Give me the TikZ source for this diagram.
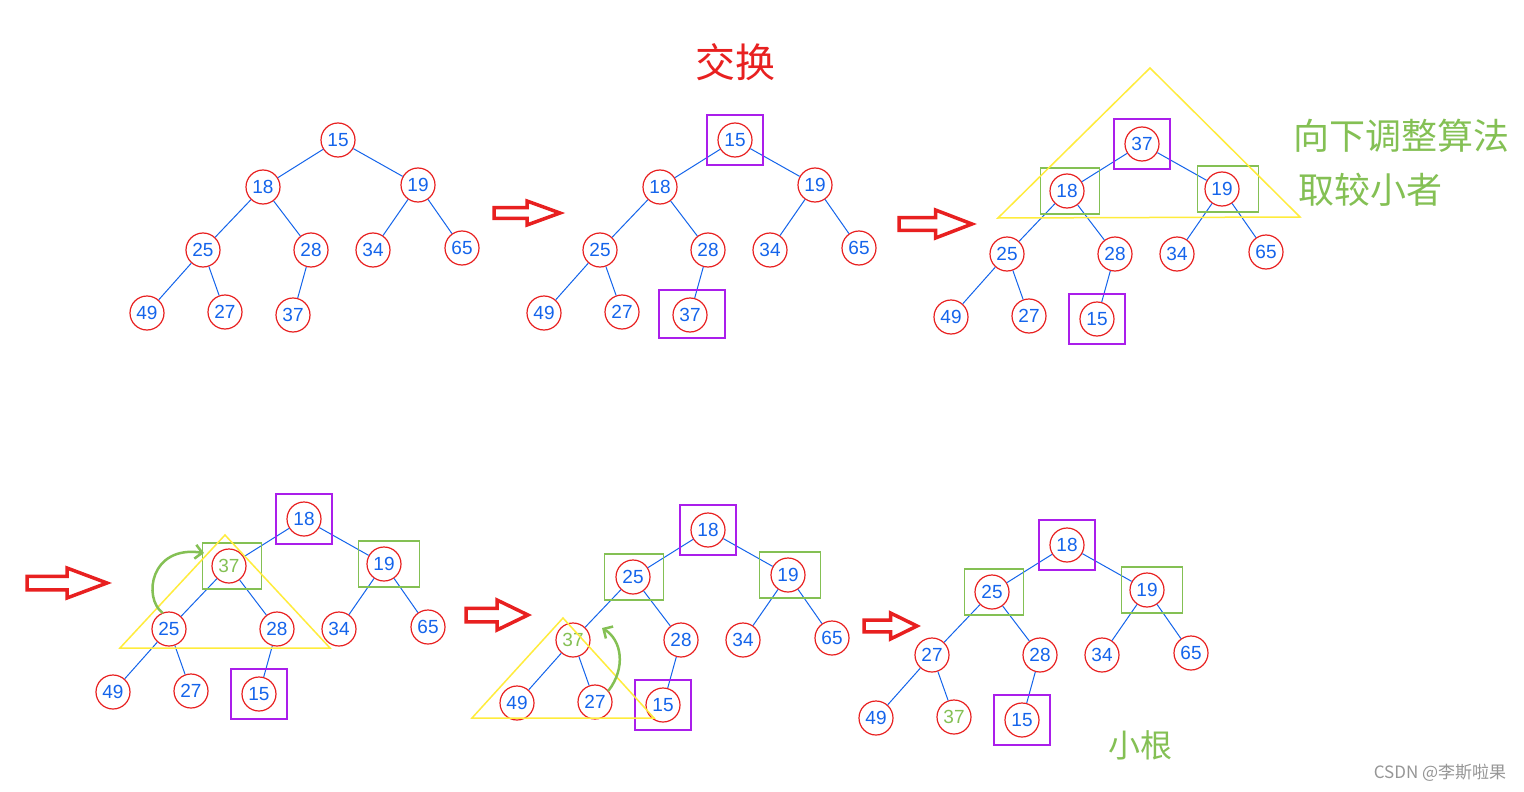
\documentclass[tikz,border=0pt]{standalone}
\usepackage{fontspec}
\setmainfont{Liberation Sans}
\newfontfamily\cjk{Noto Sans CJK SC}
\usetikzlibrary{arrows.meta}
\definecolor{cred}{RGB}{232,32,32}
\definecolor{cblue}{RGB}{20,100,235}
\definecolor{cgreen}{RGB}{132,192,84}
\definecolor{cpurple}{RGB}{170,30,235}
\definecolor{cyellow}{RGB}{255,236,60}
\definecolor{cgray}{RGB}{150,150,150}
\tikzset{
 hn/.style={circle, draw=cred, line width=1.2pt, minimum size=34pt, inner sep=0pt, text=cblue, font=\fontsize{19}{19}\selectfont},
 edge/.style={draw=cblue, line width=1pt},
 pbox/.style={draw=cpurple, line width=1.5pt, minimum width=56pt, minimum height=50pt, inner sep=0pt},
 gbox/.style={draw=cgreen, line width=1.5pt, minimum width=59pt, minimum height=46pt, inner sep=0pt},
 ytri/.style={draw=cyellow, line width=1.5pt, line join=miter},
 redarrow/.style={draw=cred, fill=white, line width=3.5pt, line join=miter},
 garrow/.style={draw=cgreen, line width=2.5pt, line cap=round, -{Straight Barb[length=7pt,width=14pt,line width=2.5pt]}},
 hand/.style={text=cgreen, font=\cjk\fontsize{36}{36}\selectfont, inner sep=0pt},
}
\newcommand\heap[9]{%
 \node[hn] (#1r) at (0,0) {#2};
 \node[hn] (#1a) at (-75,47) {#3};
 \node[hn] (#1b) at (80,45) {#4};
 \node[hn] (#1c) at (-135,110) {#5};
 \node[hn] (#1d) at (-27,110) {#6};
 \node[hn] (#1e) at (35,110) {34};
 \node[hn] (#1f) at (124,108) {65};
 \node[hn] (#1g) at (-191,173) {#7};
 \node[hn] (#1h) at (-113,172) {#8};
 \node[hn] (#1i) at (-45,175) {#9};
 \draw[edge] (#1r) -- (#1a);
 \draw[edge] (#1r) -- (#1b);
 \draw[edge] (#1a) -- (#1c);
 \draw[edge] (#1a) -- (#1d);
 \draw[edge] (#1b) -- (#1e);
 \draw[edge] (#1b) -- (#1f);
 \draw[edge] (#1c) -- (#1g);
 \draw[edge] (#1c) -- (#1h);
 \draw[edge] (#1d) -- (#1i);
}
\newcommand\redarr[4]{%
 \draw[redarrow] (#1,{#3-0.45*#4}) -- ({#1+0.5*(#2-#1)},{#3-0.45*#4}) -- ({#1+0.5*(#2-#1)},{#3-#4}) -- (#2,#3)
   -- ({#1+0.5*(#2-#1)},{#3+#4}) -- ({#1+0.5*(#2-#1)},{#3+0.45*#4}) -- (#1,{#3+0.45*#4}) -- cycle;
}
\newcommand\gl[1]{\textcolor{cgreen}{#1}}
\begin{document}
\begin{tikzpicture}[x=1pt,y=-1pt]
\fill[white] (0,0) rectangle (1524,792);
\useasboundingbox (0,0) rectangle (1524,792);

% titles and notes
\node[text=cred, font=\cjk\fontsize{40}{40}\selectfont, inner sep=0pt] (title) at (735,62) {交换};
\node[hand] (note1) at (1401,136) {向下调整算法};
\node[hand] (note2) at (1370,190) {取较小者};
\node[hand, font=\cjk\fontsize{32}{32}\selectfont] (note3) at (1140,745) {小根};
\node[text=cgray, font=\cjk\fontsize{17}{17}\selectfont, inner sep=0pt] (wm) at (1440,773) {CSDN @李斯啦果};

% trees
\begin{scope}[shift={(338,140)}]
 \heap{a}{15}{18}{19}{25}{28}{49}{27}{37}
\end{scope}
\begin{scope}[shift={(735,140)}]
 \heap{b}{15}{18}{19}{25}{28}{49}{27}{37}
\end{scope}
\begin{scope}[shift={(1142,144)}]
 \heap{c}{37}{18}{19}{25}{28}{49}{27}{15}
\end{scope}
\begin{scope}[shift={(304,519)}]
 \heap{d}{18}{\gl{37}}{19}{25}{28}{49}{27}{15}
\end{scope}
\begin{scope}[shift={(708,530)}]
 \heap{e}{18}{25}{19}{\gl{37}}{28}{49}{27}{15}
\end{scope}
\begin{scope}[shift={(1067,545)}]
 \heap{f}{18}{25}{19}{27}{28}{49}{\gl{37}}{15}
\end{scope}

% purple boxes
\node[pbox] (pb1) at (br) {};
\node[pbox, minimum width=66pt, minimum height=48pt] (pb2) at (692,314) {};
\node[pbox] (pc1) at (cr) {};
\node[pbox] (pc2) at (ci) {};
\node[pbox] (pd1) at (dr) {};
\node[pbox] (pd2) at (di) {};
\node[pbox] (pe1) at (er) {};
\node[pbox] (pe2) at (ei) {};
\node[pbox] (pf1) at (fr) {};
\node[pbox] (pf2) at (fi) {};

% green boxes
\node[gbox] (gc1) at ([xshift=3pt]ca) {};
\node[gbox, minimum width=61pt] (gc2) at ([xshift=6pt]cb) {};
\node[gbox] (gd1) at ([xshift=3pt]da) {};
\node[gbox, minimum width=61pt] (gd2) at ([xshift=5pt]db) {};
\node[gbox] (ge1) at ([xshift=1pt]ea) {};
\node[gbox, minimum width=61pt] (ge2) at ([xshift=2pt]eb) {};
\node[gbox] (gf1) at ([xshift=2pt]fa) {};
\node[gbox, minimum width=61pt] (gf2) at ([xshift=5pt]fb) {};

% yellow triangles
\draw[ytri] (1150,68) -- (998,218) -- (1300,217) -- cycle;
\draw[ytri] (225,535) -- (120,648) -- (330,648) -- cycle;
\draw[ytri] (563,618) -- (472,718) -- (654,718) -- cycle;

% green swap arrows
\coordinate (ga1) at (204,553);
\draw[garrow] (dc.112) .. controls (143,598) and (150,545) .. (ga1);
\coordinate (ga2) at (602,628);
\draw[garrow] (eh.40) .. controls (626,668) and (622,640) .. (ga2);

% red block arrows
\redarr{494}{560}{213}{12}
\redarr{899}{972}{224}{14}
\redarr{27}{107}{583}{15}
\redarr{466}{528}{615}{15}
\redarr{864}{917}{626}{13}
\end{tikzpicture}
\end{document}
